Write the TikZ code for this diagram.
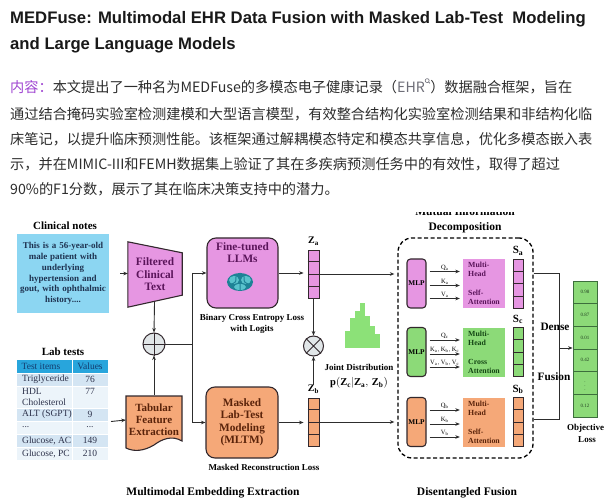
\documentclass[tikz,border=0pt]{standalone}
\usepackage{fontspec}
\setmainfont{Liberation Serif}
\newfontfamily\cjk{Noto Sans CJK SC}
\newfontfamily\headsans{Liberation Sans}
\usetikzlibrary{arrows.meta,calc,positioning,backgrounds}

\definecolor{titleblack}{RGB}{25,25,25}
\definecolor{paragray}{RGB}{45,45,45}
\definecolor{tagpurple}{RGB}{160,70,210}
\definecolor{linkgray}{RGB}{110,110,120}
\definecolor{linegray}{RGB}{45,45,45}
\definecolor{outl}{RGB}{50,40,45}
\definecolor{pinkf}{RGB}{230,150,226}
\definecolor{greenf}{RGB}{140,218,120}
\definecolor{orangef}{RGB}{245,168,120}
\definecolor{notesblue}{RGB}{140,214,242}
\definecolor{notetext}{RGB}{30,50,80}
\definecolor{hdrblue}{RGB}{40,165,220}
\definecolor{hdrtext}{RGB}{20,60,110}
\definecolor{rowA}{RGB}{212,229,243}
\definecolor{rowB}{RGB}{236,244,250}
\definecolor{tbltext}{RGB}{45,50,75}
\definecolor{pinktext}{RGB}{90,20,90}
\definecolor{greentext}{RGB}{20,70,20}
\definecolor{orangetext}{RGB}{90,35,10}
\definecolor{opgray}{RGB}{225,230,232}
\definecolor{histgreen}{RGB}{140,225,120}
\definecolor{lossgreen}{RGB}{60,110,60}
\definecolor{brainA}{RGB}{30,130,150}
\definecolor{brainB}{RGB}{90,195,205}

\newcommand{\boxfont}{\bfseries\fontsize{11.3}{12.5}\selectfont}
\newcommand{\capfont}{\bfseries\fontsize{9}{11}\selectfont}
\newcommand{\secfont}{\bfseries\fontsize{11.5}{13}\selectfont}

\tikzset{
  conn/.style={draw=linegray, line width=0.9pt, ->},
  plainline/.style={draw=linegray, line width=0.9pt},
  blk/.style={draw=outl, line width=1.1pt},
  para/.style={anchor=west, text=paragray, font=\cjk\fontsize{14.2}{16}\selectfont},
  vec/.style={draw=outl, line width=0.9pt, minimum width=11, minimum height=48},
  svec/.style={vec, minimum width=10, minimum height=49},
  mlp/.style={draw=outl, line width=1.1pt, rounded corners=3.5, minimum width=19,
    minimum height=49, font=\bfseries\fontsize{7.3}{8}\selectfont},
  att/.style={minimum width=42, minimum height=49, align=left,
    font=\bfseries\fontsize{7.8}{9}\selectfont},
  qkv/.style={font=\fontsize{6.5}{6.5}\selectfont, above=0.8pt},
  tbl/.style={text=tbltext, font=\fontsize{9.5}{11}\selectfont},
}

\begin{document}
\begin{tikzpicture}[x=1pt, y=-1pt, >={Stealth[length=4.5pt,width=3.6pt]},
  every node/.style={inner sep=0pt}]

\begin{scope}[on background layer]
  \fill[white] (0,0) rectangle (606,500);
\end{scope}
\useasboundingbox (0,0) rectangle (606,500);

% header text
\node[anchor=west, text=titleblack, font=\headsans\bfseries\fontsize{16.7}{18}\selectfont]
  (titleA) at (10,19) {MEDFuse: Multimodal EHR Data Fusion with Masked Lab-Test\ \ Modeling};
\node[anchor=west, text=titleblack, font=\headsans\bfseries\fontsize{16.7}{18}\selectfont]
  (titleB) at (10,45) {and Large Language Models};

\node[para] (pA) at (10,86) {{\color{tagpurple}内容：}本文提出了一种名为MEDFuse的多模态电子健康记录（{\color{linkgray}EHR}\raisebox{1.1ex}{\tikz[x=1pt,y=1pt]\draw[linkgray,line width=0.6pt] (0,0) circle (2pt) (1.4,-1.4) -- (2.8,-2.8);}）数据融合框架，旨在};
\node[para] (pB) at (10,114) {通过结合掩码实验室检测建模和大型语言模型，有效整合结构化实验室检测结果和非结构化临};
\node[para] (pC) at (10,139) {床笔记，以提升临床预测性能。该框架通过解耦模态特定和模态共享信息，优化多模态嵌入表};
\node[para] (pD) at (10,164) {示，并在MIMIC-III和FEMH数据集上验证了其在多疾病预测任务中的有效性，取得了超过};
\node[para] (pE) at (10,189) {90\%的F1分数，展示了其在临床决策支持中的潜力。};

% clinical notes
\node[font=\bfseries\fontsize{11}{12}\selectfont] (notesT) at (65,226) {Clinical notes};
\node[fill=notesblue, minimum width=92, minimum height=79, text width=91, align=center,
  text=notetext, font=\bfseries\fontsize{9}{10.8}\selectfont] (notes) at (63,273.5)
  {This is a 56-year-old\\male patient with\\underlying\\hypertension and\\gout, with ophthalmic\\history....};

% lab tests table
\node[font=\bfseries\fontsize{11}{12}\selectfont] (labT) at (63,352) {Lab tests};
\foreach \ya/\yb/\fc in {360/373/hdrblue, 373/386/rowA, 386/408/rowB, 408/421/rowA,
  421/434/rowB, 434/447/rowA, 447/460/rowB}
  \fill[\fc] (17,\ya) rectangle (108,\yb);
\foreach \yy in {373,386,408,421,434,447}
  \draw[white, line width=0.6pt] (17,\yy) -- (108,\yy);
\draw[white, line width=1pt] (72,360) -- (72,460);
\node[tbl, text=hdrtext] (hdrA) at (41,366.5) {Test items};
\node[tbl, text=hdrtext] (hdrB) at (90,366.5) {Values};
\foreach \item/\val/\yy/\vy [count=\i] in {Triglyceride/76/379.5/379.5,
  {HDL\\Cholesterol}/77/397/391, {ALT (SGPT)}/9/414.5/414.5, {...}/{...}/427.5/427.5,
  {Glucose, AC}/149/440.5/440.5, {Glucose, PC}/210/453.5/453.5} {
  \node[tbl, anchor=west, align=left] (item\i) at (22,\yy) {\item};
  \node[tbl] (val\i) at (90,\vy) {\val};
}
\coordinate (tblR) at (111,421.5);

% plus operator and the two input branches
\node[circle, draw=outl, fill=opgray, line width=1pt, minimum size=22] (plus) at (154,344) {};
\draw[outl, line width=1pt] (plus.north) -- (plus.south) (plus.west) -- (plus.east);

\node[minimum width=54, minimum height=65, align=center, text=pinktext,
  font=\boxfont] (filt) at (155,274.5) {Filtered\\Clinical\\Text};
\node[minimum width=56, minimum height=50, align=center, text=orangetext,
  font=\bfseries\fontsize{11}{12}\selectfont] (tab) at (154,420) {Tabular\\Feature\\Extraction};

\begin{scope}[on background layer]
  \draw[conn] (filt.center) -- (plus.north);
  \filldraw[fill=pinkf, draw=outl, line width=1.1pt] (filt.north west)
    -- ([yshift=-11pt]filt.north east) -- ([yshift=12pt]filt.south east)
    -- (filt.south west) -- cycle;
  \filldraw[fill=orangef, draw=outl, line width=1.1pt] (126,396) -- (182,396) -- (182,441)
    .. controls (172,435) and (162,439) .. (154,445)
    .. controls (144,451) and (134,452) .. (126,448) -- cycle;
\end{scope}

\draw[conn, shorten <=11pt] (notes.east) -- (notes.east -| filt.west);
\draw[conn] (tblR) -- (tab.west);
\draw[conn] (tab.north) -- (plus.south);

% embedding extractors
\node[blk, fill=pinkf, rounded corners=9, minimum width=71, minimum height=70] (llm) at (242.5,273) {};
\node[below=5pt of llm.north, align=center, text=pinktext, font=\boxfont] (llmT) {Fine-tuned\\LLMs};
\fill[brainA] (240,282) ellipse (13 and 9);
\fill[brainB] (234,280) ellipse (5 and 4) (246,280) ellipse (5 and 4) (240,287) ellipse (6 and 3);
\draw[brainA, line width=1pt] (240,273) -- (240,291) (232,284) .. controls (236,282) .. (236,277)
  (248,284) .. controls (244,282) .. (244,277);
\node[font=\capfont, align=center] (bce) at (252,323.5) {Binary Cross Entropy Loss\\with Logits};

\node[blk, fill=orangef, rounded corners=9, minimum width=72, minimum height=71, align=center,
  text=orangetext, font=\boxfont] (mltm) at (242,422.5) {Masked\\Lab-Test\\Modeling\\(MLTM)};
\node[font=\capfont] (mrl) at (264,467) {Masked Reconstruction Loss};

\coordinate (busM) at (192,344);
\coordinate (busT) at (192,273);
\coordinate (busB) at (192,422.5);
\draw[plainline] (plus.east) -- (busM);
\draw[plainline] (busT) -- (busB);
\draw[conn] (busT) -- (llm.west);
\draw[conn] (busB) -- (mltm.west);

% latent vectors
\node[vec, fill=pinkf] (za) at (313.5,274) {};
\node[above=4pt of za, font=\fontsize{10}{10}\selectfont] (zaL) {$\mathbf{Z_a}$};
\node[vec, fill=orangef] (zb) at (313.5,422) {};
\node[above=4pt of zb, font=\fontsize{10}{10}\selectfont] (zbL) {$\mathbf{Z_b}$};
\node[circle, draw=outl, fill=opgray, line width=1pt, minimum size=20] (otimes) at (313.5,346) {};
\draw[outl, line width=1pt] (otimes.north west) -- (otimes.south east)
  (otimes.north east) -- (otimes.south west);
\draw[conn] (za.south) -- (otimes.north);
\draw[conn] (zbL.north) -- (otimes.south);
\draw[conn, shorten >=4pt] (llm.east) -- (llm.east -| za.west);
\draw[conn, shorten >=4pt] (mltm.east) -- (mltm.east -| zb.west);

% joint distribution
\foreach \xl/\yt in {345/331, 350/318, 355/311, 360/303, 365/316, 370/326, 375/334}
  \fill[histgreen] (\xl,\yt) rectangle ({\xl+5},348);
\node[font=\capfont] (jointT) at (359,367) {Joint Distribution};
\node[font=\fontsize{10.5}{10}\selectfont] (jointP) at (359,383) {$\mathbf{p(Z_c|Z_a,\,Z_b)}$};

% disentangled fusion
\node[draw, dash pattern=on 4pt off 2.5pt, line width=1.3pt, rounded corners=14,
  minimum width=135, minimum height=220] (dbox) at (465.5,348) {};
\node[font=\secfont] (mutT) at (465,212) {Mutual Information};
\fill[white] (395,196) rectangle (540,211.8);
\node[font=\secfont] (decT) at (465,228) {Decomposition};
\draw[conn, shorten >=3pt] (za.east) -- (za.east -| dbox.west);
\draw[conn, shorten >=3pt] (zb.east) -- (zb.east -| dbox.west);

\foreach \n/\yc/\fc/\tc/\lq/\lk/\lv/\att in {
  a/283.5/pinkf/pinktext/Q_a/K_a/V_a/{Self-\\Attention},
  c/352/greenf/greentext/Q_c/{K_a, K_b, K_c}/{V_a, V_b, V_c}/{Cross\\Attention},
  b/422/orangef/orangetext/Q_b/K_b/V_b/{Self-\\Attention}} {
  \node[mlp, fill=\fc] (mlp\n) at (416.5,\yc) {MLP};
  \node[att, fill=\fc, text=\tc] (att\n) at (484,\yc) {Multi-\\Head\\[10pt]\att};
  \node[svec, fill=\fc] (s\n) at (518,\yc) {};
  \node[above=3pt of s\n, font=\fontsize{11}{11}\selectfont] (lbl\n) {$\mathbf{S_\n}$};
  \foreach \dy/\lab in {12/\lq, -2/\lk, -15/\lv}
    \draw[conn, shorten <=3pt, shorten >=3pt] ([yshift=\dy]mlp\n.east)
      -- ([yshift=\dy]mlp\n.east -| att\n.west) node[midway, qkv] {$\mathrm{\lab}$};
}
\foreach \v in {za,zb,sa,sc,sb}
  \foreach \t in {0.25,0.5,0.75}
    \draw[outl, line width=0.7pt] ($(\v.north west)!\t!(\v.south west)$)
      -- ($(\v.north east)!\t!(\v.south east)$);

% dense fusion and objective
\node[draw=lossgreen, line width=0.8pt, fill=greenf, minimum width=24, minimum height=136] (loss) at (585,349) {};
\foreach \i in {1,...,5}
  \draw[lossgreen, line width=0.7pt] (573,{281+22.67*\i}) -- (597,{281+22.67*\i});
\foreach \v [count=\i] in {0.98,0.87,0.01,0.42,{$\vdots$},0.12}
  \node[text=lossgreen!60!black, font=\fontsize{5}{5}\selectfont] (lv\i) at (585,{281+22.67*\i-11.33}) {\v};

\coordinate (dfT) at (559,273);
\coordinate (dfB) at (559,419);
\coordinate (dfM) at (559,348);
\draw[plainline] (dbox.east |- dfT) -- (dfT) -- (dfB) -- (dbox.east |- dfB);
\draw[conn] (dfM) -- (dfM -| loss.west);
\node[font=\boxfont] (denseT) at (555,327) {Dense};
\node[font=\boxfont] (fusionT) at (554,377) {Fusion};
\node[anchor=west, font=\capfont] (objT) at (567,428) {Objective};
\node[font=\capfont] (lossT) at (587,440) {Loss};

% section captions
\node[font=\secfont] (capA) at (213,493) {Multimodal Embedding Extraction};
\node[font=\secfont] (capB) at (467,493) {Disentangled Fusion};

\end{tikzpicture}
\end{document}
